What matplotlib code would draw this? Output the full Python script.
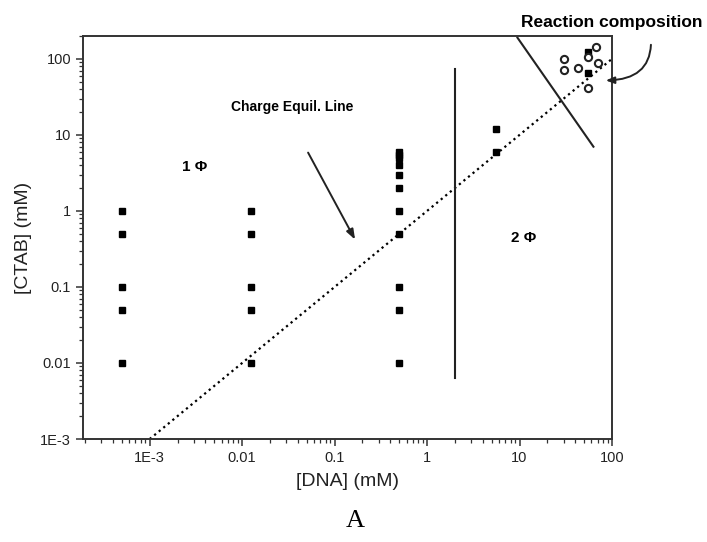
import numpy as np
import matplotlib
matplotlib.use("Agg")
import matplotlib.pyplot as plt
from matplotlib.ticker import LogLocator, FixedLocator, FixedFormatter, NullFormatter

plt.rcParams['font.family'] = ['Liberation Sans', 'DejaVu Sans']

# one-phase sample grid (filled squares)
dna_low = [5e-4] * 5 + [0.0125] * 5
ctab_low = [1, 0.5, 0.1, 0.05, 0.01] * 2
dna_mid = [0.5] * 11
ctab_mid = [6, 5.5, 5, 4, 3, 2, 1, 0.5, 0.1, 0.05, 0.01]
dna_high = [5.6, 5.6, 55, 55]
ctab_high = [12, 6, 123, 65]

# reaction compositions (open circles)
dna_rxn = [67, 55, 30, 30, 43, 70, 55]
ctab_rxn = [145, 105, 99, 71, 75, 88, 41]

# charge equilibrium line and phase boundaries
equil_x = [1e-3, 100]
equil_y = [1e-3, 100]
bound_v_x = [2.0, 2.0]
bound_v_y = [0.0063, 73]
bound_d_x = [9.5, 63]
bound_d_y = [190, 7.0]

xticks = [1e-3, 1e-2, 1e-1, 1, 10, 100]
xticklabels = ['1E-3', '0.01', '0.1', '1', '10', '100']
yticks = [1e-3, 1e-2, 1e-1, 1, 10, 100]
yticklabels = ['1E-3', '0.01', '0.1', '1', '10', '100']

fig = plt.figure(figsize=(7.07, 5.42), dpi=100)
ax = fig.add_axes([0.1174, 0.19, 0.7482, 0.7436])

ax.plot(equil_x, equil_y, color='black', linestyle=':', linewidth=1.6)
ax.plot(bound_v_x, bound_v_y, color='#222222', linewidth=1.5)
ax.plot(bound_d_x, bound_d_y, color='#222222', linewidth=1.5)

sq = dict(marker='s', linestyle='none', color='black', markersize=4.1)
ax.plot(dna_low, ctab_low, **sq)
ax.plot(dna_mid, ctab_mid, **sq)
ax.plot(dna_high, ctab_high, **sq)
ax.plot(dna_rxn, ctab_rxn, marker='o', linestyle='none', markersize=5.2,
        markerfacecolor='white', markeredgecolor='#222222', markeredgewidth=1.5)

ax.set_xscale('log')
ax.set_yscale('log')
ax.set_xlim(1.9e-4, 100)
ax.set_ylim(1e-3, 200)

ax.xaxis.set_major_locator(FixedLocator(xticks))
ax.xaxis.set_major_formatter(FixedFormatter(xticklabels))
ax.yaxis.set_major_locator(FixedLocator(yticks))
ax.yaxis.set_major_formatter(FixedFormatter(yticklabels))
ax.xaxis.set_minor_locator(LogLocator(base=10, subs=np.arange(2, 10), numticks=20))
ax.yaxis.set_minor_locator(LogLocator(base=10, subs=np.arange(2, 10), numticks=20))
ax.xaxis.set_minor_formatter(NullFormatter())
ax.yaxis.set_minor_formatter(NullFormatter())
ax.tick_params(which='major', direction='out', length=5, width=1.1, labelsize=10.5,
               color='#333333', labelcolor='#222222', top=False, right=False)
ax.tick_params(which='minor', direction='out', length=2.8, width=0.9,
               color='#333333', top=False, right=False)
for s in ax.spines.values():
    s.set_linewidth(1.4)
    s.set_color('#333333')

ax.set_xlabel('[DNA] (mM)', fontsize=14, color='#222222', labelpad=6)
ax.set_ylabel('[CTAB] (mM)', fontsize=14, color='#222222', labelpad=6)

ax.text(0.0031, 3.75, '1 Φ', fontsize=11, fontweight='bold', ha='center', va='center')
ax.text(11.1, 0.44, '2 Φ', fontsize=11, fontweight='bold', ha='center', va='center')
ax.text(0.0345, 23, 'Charge Equil. Line', fontsize=10, fontweight='bold',
        ha='center', va='center')
ax.annotate('', xy=(0.172, 0.39), xytext=(0.05, 6.3),
            arrowprops=dict(arrowstyle='-|>,head_length=0.6,head_width=0.22',
                            color='#222222', linewidth=1.4))

fig.text(0.865, 0.959, 'Reaction composition', fontsize=12.5, fontweight='bold',
         ha='center', va='center')
ax.annotate('', xy=(80, 52), xycoords='data',
            xytext=(651 / 707, 1 - 42 / 542), textcoords='figure fraction',
            arrowprops=dict(arrowstyle='-|>,head_length=0.5,head_width=0.2',
                            connectionstyle='angle3,angleA=90,angleB=0',
                            color='#222222', linewidth=1.4),
            annotation_clip=False)

fig.text(0.502, 0.038, 'A', fontsize=19, family=['Liberation Serif', 'DejaVu Serif'],
         ha='center', va='center')

fig.savefig('out.png', dpi=100)
